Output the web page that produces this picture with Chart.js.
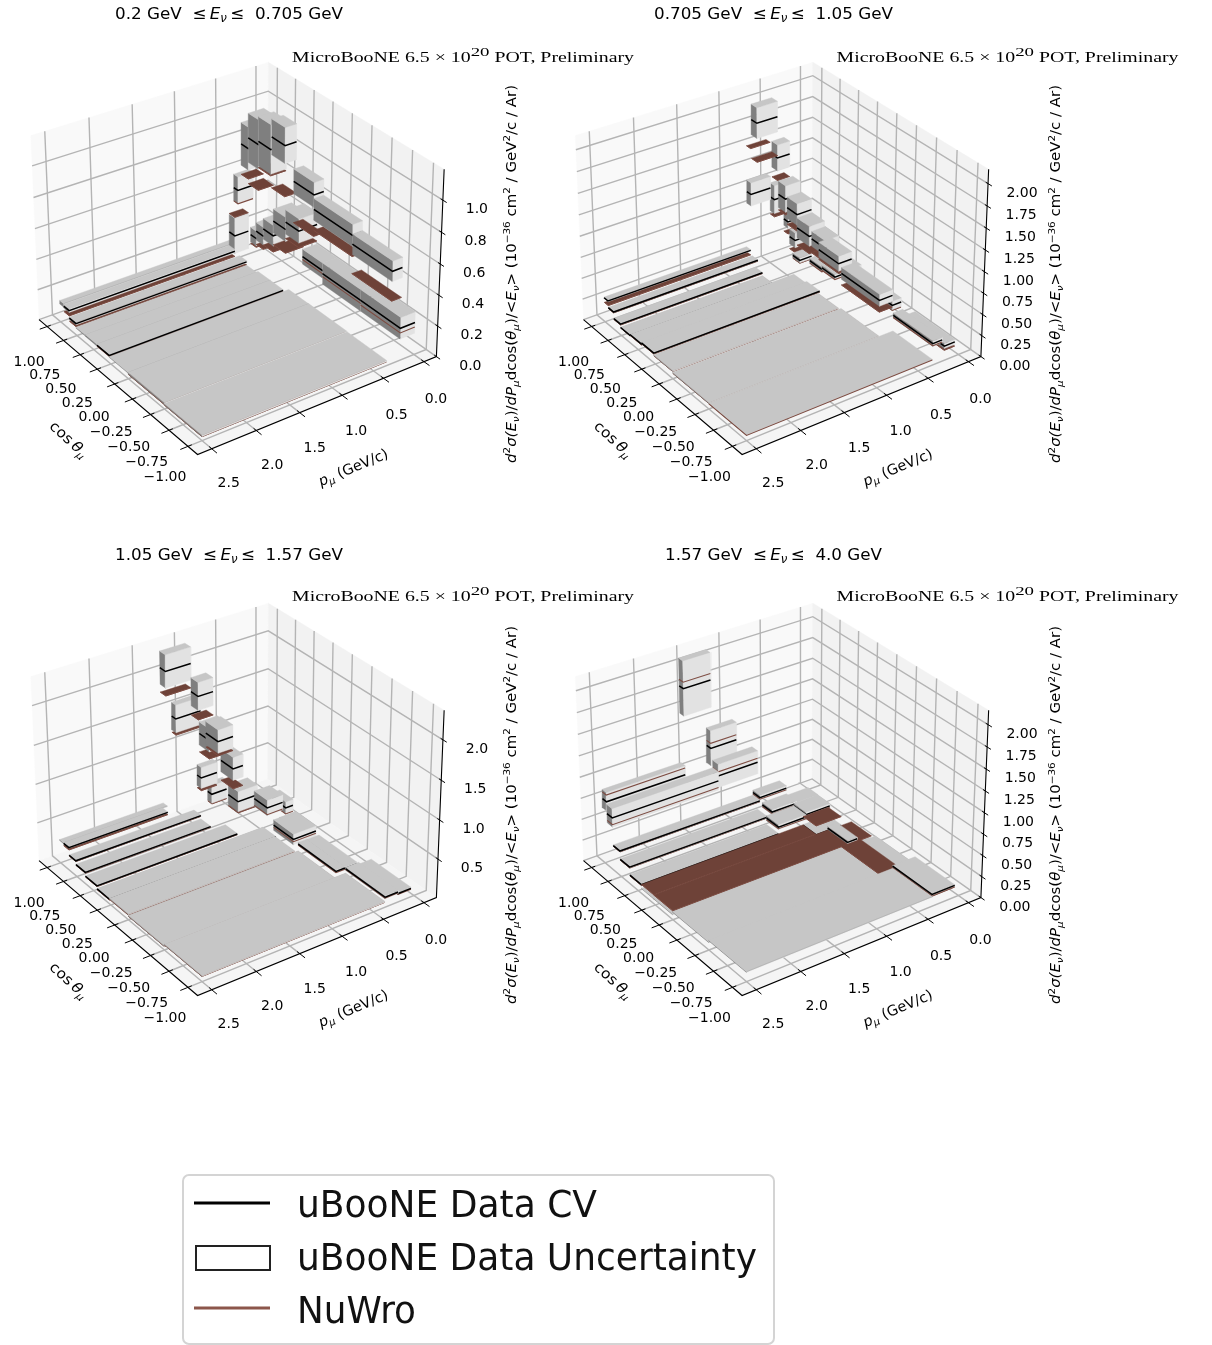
<!DOCTYPE html>
<html><head><meta charset="utf-8">
<style>html,body{margin:0;padding:0;background:#fff}canvas{display:block}</style>
<script src="https://cdn.jsdelivr.net/npm/chart.js@4/dist/chart.umd.min.js"></script>
</head><body><canvas id="c" width="1212" height="1345"></canvas>
<script>
const cosEdges=[-1,-0.5,0,0.27,0.45,0.62,0.76,0.86,0.94,1];
const cosTicks=[1,0.75,0.5,0.25,0,-0.25,-0.5,-0.75,-1];
const pTicks=[0,0.5,1,1.5,2,2.5];
const zTicksA=[0,0.2,0.4,0.6,0.8,1.0];
const zTicksB=[0,0.25,0.5,0.75,1,1.25,1.5,1.75,2];
const zTicksC=[0.5,1,1.5,2];
const zTicksD=[0,0.25,0.5,0.75,1,1.25,1.5,1.75,2];
const zTopA=1.19,zTopB=2.16,zTopC=2.36,zTopD=2.16;
// rows: cos bin index, p low, p high, data CV, data uncertainty, NuWro, occlusion (1: CV hidden by its box, 2: CV and NuWro hidden)
const binsA=[
[0,0,.18,.21,.07,.18],[0,.18,.3,.6,.065,.41],[0,.34,2.5,.03,.004,.025,1],
[1,0,.18,.21,.07,.19],[1,.18,.3,.656,.07,.52],[1,.345,2.5,.035,.005,.028,1],
[2,0,.18,.23,.05,.21],[2,.18,.3,.75,.08,.48],[2,.35,2.5,.038,.003,.035,2],
[3,0,.23,.41,.08,.3],[3,.27,.41,1.0,.115,.67],[3,.42,2.5,.048,.006,.042],
[4,0,.23,.36,.08,.2],[4,.23,.42,.92,.16,.75],[4,.42,2.5,.048,.006,.04,2],
[5,0,.23,.26,.07,.15],[5,.23,.42,.9,.16,.6],[5,.44,2.5,.048,.004,.04,2],
[6,0,.23,.21,.06,.12],[6,.23,.42,.83,.14,.63],[6,.44,2.5,.075,.008,.055],
[7,0,.23,.16,.05,.1],[7,.33,.5,.23,.12,.356],[7,.5,2.5,.125,.012,.09],
[8,.2,.39,.49,.09,.40],[8,.42,2.5,.13,.012,.09,2]];
const binsB=[
[0,.05,.18,.17,.03,.12],[0,.21,.325,.255,.03,.23],[0,.325,2.5,.064,.004,.06,1],
[1,.23,.34,.38,.05,.32],[1,.34,.5,.5,.07,.36],[1,.5,2.5,.07,.004,.064,1],
[2,.255,.375,.466,.05,.42],[2,.375,.535,.627,.09,.51],[2,.535,2.5,.09,.004,.085,1],
[3,.2,.33,.22,.03,.19],[3,.29,.46,.62,.09,.45],[3,.52,2.5,.116,.004,.105],
[4,.2,.33,.2,.03,.17],[4,.3,.49,.66,.12,.45],[4,.53,2.5,.1,.004,.09],
[5,.31,.49,.82,.13,.62],[5,.8,2.5,.09,.004,.085],
[6,.18,.33,.115,.03,.08],[6,.33,.51,.93,.16,.74],[6,.8,2.5,.13,.004,.12],
[7,.15,.3,.29,.09,.14],[7,.37,.52,1.37,.155,1.1],[7,.52,.77,1.86,.18,1.4],[7,.77,2.5,.21,.005,.2],
[8,.15,.32,.48,.08,.33],[8,.32,.49,.81,.17,.6],[8,.54,.78,.97,.14,1.52],[8,.79,2.5,.29,.008,.235]];
const binsC=[
[0,.04,.2,.11,.015,.1],[0,.2,.36,.13,.02,.12],[0,.36,2.5,.07,.004,.065,1],
[1,.22,.37,.14,.02,.13],[1,.37,.48,.145,.02,.13],[1,.48,2.5,.05,.004,.045,1],
[2,.26,.54,.23,.07,.2],[2,.525,2.5,.07,.004,.06,1],
[3,.12,.3,.08,.03,.05],[3,.3,.39,.4,.08,.32],[3,.43,.62,.49,.1,.4],[3,.51,2.5,.06,.004,.05],
[4,.76,.88,.98,.15,.72],[4,.88,1.06,1.4,.15,1.22],[4,.83,2.5,.1,.005,.09],
[5,.43,.67,.35,.135,.2],[5,.8,1.02,1.29,.15,1.05],[5,1.01,2.5,.15,.005,.14],
[6,.85,1.03,1.77,.18,1.47],[6,1.01,2.5,.2,.005,.19],
[7,1.03,1.33,2.13,.21,1.82],[7,1.33,2.5,.3,.006,.27],
[8,.535,.72,.25,.12,.12],[8,.655,.85,.52,.14,.35],[8,.85,1.15,1.41,.18,1.2],[8,1.27,2.5,.3,.006,.26,2]];
const binsD=[
[0,.05,.33,.14,.008,.12],[0,.33,2.5,.11,.004,.1,2],
[1,.07,.26,.07,.01,.05],[1,.26,.5,.06,.01,.11,1],[1,.5,2.5,.09,.004,.085,2],
[2,.12,.3,.06,.01,.1],[2,.3,.42,.13,.02,.1],[2,.42,2.5,.06,.004,.105,1],
[3,.25,.565,.1,.01,.21],[3,.565,2.5,.06,.004,.108,1],
[4,.23,.53,.22,.03,.2],[4,.53,.87,.19,.03,.17],[4,.87,2.5,.105,.006,.095],
[5,.225,.5,.22,.03,.2],[5,.5,.8,.24,.03,.22],[5,.86,2.5,.2,.008,.19],
[6,.5,.83,.34,.03,.32],[6,.83,2.5,.3,.008,.29],
[7,.77,1.25,.69,.14,.74],[7,1.25,2.5,.63,.11,.55],
[8,.96,1.27,.98,.21,1.04],[8,1.26,1.58,1.785,.32,1.86],[8,1.58,2.5,.77,.11,.85]];

const panels=[
 {bins:binsA,zt:zTicksA,zTop:zTopA,zFmt:1,dx:0,dy:0,lo:'0.2',hi:'0.705',tw:228},
 {bins:binsB,zt:zTicksB,zTop:zTopB,zFmt:2,dx:544.5,dy:0,lo:'0.705',hi:'1.05',tw:239},
 {bins:binsC,zt:zTicksC,zTop:zTopC,zFmt:1,dx:0,dy:541,lo:'1.05',hi:'1.57',tw:228},
 {bins:binsD,zt:zTicksD,zTop:zTopD,zFmt:2,dx:544.5,dy:541,lo:'1.57',hi:'4.0',tw:217}];

// camera calibration: the unit box corners as seen in the first panel
const corners=[[1,1,0,39.3,320.7],[0,0,0,436.5,357],[0,1,0,197.3,454],[1,0,0,267.5,237],[1,1,1,30.7,135],[0,0,1,444.3,169.3],[1,0,1,268.3,62.7]];
function fitCamera(pts){
  const n=11,M=[...Array(n)].map(()=>Array(n+1).fill(0));
  const add=(r,b)=>{for(let i=0;i<n;i++){for(let j=0;j<n;j++)M[i][j]+=r[i]*r[j];M[i][n]+=r[i]*b;}};
  for(const [u,v,w,x,y] of pts){
    add([u,v,w,1,0,0,0,0,-x*u,-x*v,-x*w],x);
    add([0,0,0,0,u,v,w,1,-y*u,-y*v,-y*w],y);
  }
  for(let i=0;i<n;i++){
    let b=i;for(let k=i+1;k<n;k++)if(Math.abs(M[k][i])>Math.abs(M[b][i]))b=k;
    [M[i],M[b]]=[M[b],M[i]];
    for(let k=0;k<n;k++){if(k===i)continue;const f=M[k][i]/M[i][i];for(let j=i;j<=n;j++)M[k][j]-=f*M[i][j];}
  }
  return M.map((r,i)=>r[n]/r[i]);
}
const cam=fitCamera(corners);
const project=(u,v,w)=>{const d=cam[8]*u+cam[9]*v+cam[10]*w+1;
  return [(cam[0]*u+cam[1]*v+cam[2]*w+cam[3])/d,(cam[4]*u+cam[5]*v+cam[6]*w+cam[7])/d];};
const uOf=c=>(c+1.125)/2.25, vOf=p=>(p+0.15625)/2.8125;

const paint=[];
const poly=(pts,color,o)=>paint.push({type:'scatter',showLine:true,data:pts.map(([x,y])=>({x,y})),
  backgroundColor:color,borderColor:color,borderWidth:(o&&o.bw)||0.4,fill:o&&o.line?false:'shape',pointRadius:0,pointHoverRadius:0,tension:0,clip:false});
const line=(pts,color,w)=>poly(pts,color,{line:true,bw:w});

function buildPanel(P){
  const at=(u,v,w)=>{const [x,y]=project(u,v,w);return [x+P.dx,y+P.dy];};
  const W=z=>z/P.zTop;
  poly([at(1,1,0),at(1,0,0),at(1,0,1),at(1,1,1),at(1,1,0)],'#f9f9f9');
  poly([at(1,0,0),at(0,0,0),at(0,0,1),at(1,0,1),at(1,0,0)],'#f2f2f2');
  poly([at(0,0,0),at(1,0,0),at(1,1,0),at(0,1,0),at(0,0,0)],'#f5f5f5');
  const G='#b4b4b4',GW=1.4;
  for(const c of cosTicks){const u=uOf(c);line([at(u,1,0),at(u,0,0),at(u,0,1)],G,GW);}
  for(const p of pTicks){const v=vOf(p);line([at(0,v,0),at(1,v,0),at(1,v,1)],G,GW);}
  for(const z of P.zt){const w=W(z);line([at(1,1,w),at(1,0,w),at(0,0,w)],G,GW);}
  line([at(1,1,0),at(0,1,0),at(0,0,0),at(0,0,1)],'#000',1.1);
  for(const c of cosTicks){const u=uOf(c);line([at(u,0.985,0),at(u,1.03,0)],'#000',1);}
  for(const p of pTicks){const v=vOf(p);line([at(0.015,v,0),at(-0.03,v,0)],'#000',1);}
  for(const z of P.zt){const w=W(z);line([at(0.012,0,w),at(-0.02,0,w)],'#000',1);}
  const rows=[...P.bins].sort((a,b)=>b[0]-a[0]||a[1]-b[1]);
  const TOP='#c6c6c6',LIGHT='#e2e2e2',DARK='#7f7f7f',NU='#6e4238',NUL='#7d4c42';
  for(const [ci,pl,ph,cv,er,nu,hid=0] of rows){
    const u0=uOf(cosEdges[ci]),u1=uOf(cosEdges[ci+1]),v0=vOf(pl),v1=vOf(ph);
    const zb=Math.max(cv-er,0),zt=cv+er;
    const plate=()=>{if(hid===2)return;const w=W(nu);
      poly([at(u0,v0,w),at(u1,v0,w),at(u1,v1,w),at(u0,v1,w),at(u0,v0,w)],NU);
      line([at(u1,v1,w),at(u0,v1,w),at(u0,v0,w)],NUL,1);};
    if(nu<zb)plate();
    const a=W(zb),b=W(zt);
    poly([at(u0,v1,a),at(u1,v1,a),at(u1,v1,b),at(u0,v1,b),at(u0,v1,a)],DARK);
    poly([at(u0,v0,a),at(u0,v1,a),at(u0,v1,b),at(u0,v0,b),at(u0,v0,a)],LIGHT);
    poly([at(u0,v0,b),at(u1,v0,b),at(u1,v1,b),at(u0,v1,b),at(u0,v0,b)],TOP);
    if(hid===2)line([at(u0,v1,b),at(u0,v0,b)],'#aaaaaa',0.7);
    if(nu>=zb&&nu<=zt&&hid!==2){const w=W(nu);line([at(u1,v1,w),at(u0,v1,w),at(u0,v0,w)],NUL,1.1);}
    if(hid===0){const c=W(cv);line([at(u1,v1,c),at(u0,v1,c),at(u0,v0,c)],'#000',1.5);}
    if(nu>zt)plate();
  }
}
panels.forEach(buildPanel);

const F='"DejaVu Sans"';
function drawRuns(ctx,runs,x,y,o){
  const fam=o.family||F,sup=o.sup||0.7;
  const fontOf=(st,s)=>`${st.includes('i')?'italic ':''}${(st.includes('s')||st.includes('S'))?s*sup:s}px ${fam}`;
  const widthAt=s=>runs.reduce((t,[txt,st=''])=>{ctx.font=fontOf(st,s);return t+ctx.measureText(txt).width;},0);
  const size=o.size;const w0=widthAt(size);
  const sx=o.width?o.width/w0:1;
  ctx.save();ctx.translate(x,y);ctx.rotate((o.angle||0)*Math.PI/180);ctx.scale(sx,1);
  ctx.fillStyle=o.color||'#000';ctx.textBaseline='alphabetic';ctx.textAlign='left';
  let cx=o.left?0:-w0/2;
  const base=size*0.36;
  for(const [txt,st=''] of runs){
    ctx.font=fontOf(st,size);
    const dy=st.includes('s')?size*0.2:st.includes('S')?-size*0.42:0;
    ctx.fillText(txt,cx,base+dy);cx+=ctx.measureText(txt).width;
  }
  ctx.restore();
}
const txtPlugin={id:'labels',afterDatasetsDraw(chart){
  const ctx=chart.ctx;
  for(const P of panels){
    const at=(u,v,w)=>{const [x,y]=project(u,v,w);return [x+P.dx,y+P.dy];};
    const T=(s,x,y,sz=14)=>drawRuns(ctx,[[s]],x,y,{size:sz});
    drawRuns(ctx,[[P.lo+' GeV  ≤\u2009'],['E','i'],['ν','is'],['\u2009≤  '+P.hi+' GeV']],229+P.dx,13+P.dy,{size:16.3,width:P.tw});
    drawRuns(ctx,[['MicroBooNE 6.5 × 10'],['20','S'],[' POT, Preliminary']],463+P.dx,56.5+P.dy-(P.dy?2:0),{size:14,family:'"Liberation Serif"',width:342,sup:0.95});
    for(const c of cosTicks){const [x,y]=at(uOf(c),1,0);
      T((c<0?'−':'')+Math.abs(c).toFixed(2),x-20.5+2.5*c,y+32+2*c);}
    for(const p of pTicks){const [x,y]=at(0,vOf(p),0);T(p.toFixed(1),x+12+2*p,y+36-1.2*p);}
    for(const z of P.zt){const [x,y]=at(0,0,z/P.zTop);T(z.toFixed(P.zFmt),x+34,y+8);}
    drawRuns(ctx,[['cos\u2009'],['θ','i'],['μ','is']],69+P.dx,439+P.dy,{size:14.5,angle:43,width:46});
    drawRuns(ctx,[['p','i'],['μ','is'],[' (GeV/c)']],353+P.dx,467+P.dy,{size:14.5,angle:-23,width:74});
    drawRuns(ctx,[['d','i'],['2','S'],['σ','i'],['(E','i'],['ν','is'],[')/'],['dP','i'],['μ','is'],['dcos('],['θ','i'],['μ','is'],[')/<'],['E','i'],['ν','is'],['> (10'],['−36','S'],[' cm'],['2','S'],[' / GeV'],['2','S'],['/c / Ar)']],
      511+P.dx,274+P.dy,{size:13.5,angle:-90,width:378});
  }
  ctx.save();ctx.fillStyle='#fff';ctx.strokeStyle='#d4d4d4';ctx.lineWidth=2;
  ctx.beginPath();ctx.roundRect(183,1175,591,169,6);ctx.fill();ctx.stroke();
  ctx.lineCap='butt';
  ctx.strokeStyle='#000';ctx.lineWidth=3;ctx.beginPath();ctx.moveTo(194,1203);ctx.lineTo(270,1203);ctx.stroke();
  ctx.strokeStyle='#222';ctx.lineWidth=2;ctx.strokeRect(196,1246,74,24);
  ctx.strokeStyle='#8c564b';ctx.lineWidth=3;ctx.beginPath();ctx.moveTo(194,1308);ctx.lineTo(270,1308);ctx.stroke();
  ctx.restore();
  const L=(s,y,w)=>drawRuns(ctx,[[s]],297,y,{size:37,left:true,width:w,color:'#111'});
  L('uBooNE Data CV',1204,300);L('uBooNE Data Uncertainty',1257,460);L('NuWro',1310,119);
}};
new Chart(document.getElementById('c'),{type:'scatter',
  data:{datasets:paint.reverse()},
  options:{responsive:false,animation:false,events:[],layout:{padding:0},
    plugins:{legend:{display:false},title:{display:false},tooltip:{enabled:false}},
    scales:{x:{type:'linear',min:0,max:1212,display:false},y:{type:'linear',min:0,max:1345,reverse:true,display:false}}},
  plugins:[txtPlugin]});
</script></body></html>
